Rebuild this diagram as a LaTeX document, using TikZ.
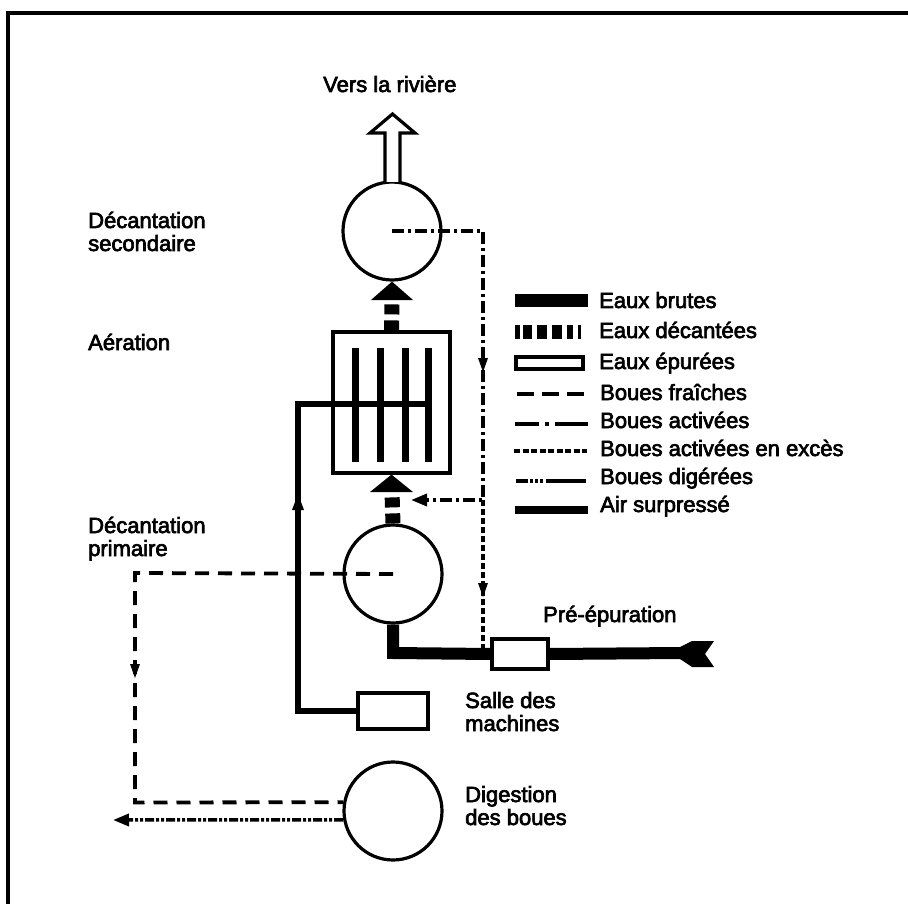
\documentclass[tikz,border=0pt]{standalone}
\usepackage{fontspec}
\setmainfont{Liberation Sans}
\newfontfamily\lblfont{Liberation Sans}[FakeBold=3]
\usetikzlibrary{arrows.meta,decorations.markings}
\begin{document}
\begin{tikzpicture}[x=1pt,y=-1pt,
  lbl/.style={anchor=base west, font=\fontsize{22}{23}\lblfont, inner sep=0pt},
  tank/.style={circle, draw, line width=3.2pt, minimum size=98pt, inner sep=0pt},
  boxn/.style={draw, line width=3.2pt, inner sep=0pt, fill=white},
  brutes/.style={line width=12pt, line join=miter},
  decant/.style={line width=15pt, dash pattern=on 10pt off 6pt},
  fraiche/.style={line width=3.8pt, dash pattern=on 14pt off 9pt},
  active/.style={line width=3.5pt, dash pattern=on 12pt off 4pt on 3pt off 4pt},
  exces/.style={line width=3.2pt, dash pattern=on 6pt off 3pt},
  digere/.style={line width=3.5pt, dash pattern=on 9pt off 2pt on 3pt off 2pt on 3pt off 2pt},
  air/.style={line width=6pt, line join=miter},
  arrowtri/.style={fill},
  endarrow/.style={-{Triangle[width=12pt,length=16pt]}}
]
\useasboundingbox (0,0) rectangle (908,904);
% frame
\draw[line width=3.5pt] (8,904) -- (8,13) -- (908,13);

% tanks and boxes
\node[tank] (sec) at (392,231) {};
\node[tank] (prim) at (393,574) {};
\node[tank] (dig) at (393,811) {};
\node[boxn, minimum width=117pt, minimum height=141pt] (aer) at (391.5,402.5) {};
\node[boxn, minimum width=56pt, minimum height=30pt] (pre) at (520,654) {};
\node[boxn, minimum width=70pt, minimum height=36pt] (salle) at (393,711) {};

% coordinates
\coordinate (actcorner) at (483,231);
\coordinate (actjoin) at (483,500);
\coordinate (actend) at (411,500);
\coordinate (excend) at (483,648);
\coordinate (frA) at (135,573);
\coordinate (frB) at (135,802.5);
\coordinate (digend) at (113,820);
\coordinate (airA) at (298,711);
\coordinate (airB) at (298,404);
\coordinate (airC) at (431,404);
\coordinate (brA) at (393,653);
\coordinate (tail) at (682,653);
\coordinate (triS) at (392,300);
\coordinate (triA) at (392,492);

% aeration internals
\foreach \x in {355,380,405,428}
  \draw[line width=7pt] (\x,348) -- (\x,462);

% air surpresse
\draw[air] (salle.west) -- (airA) -- (airB) -- (airC);
\fill[arrowtri] (298,494) -- (304,510) -- (292,510) -- cycle;

% eaux brutes
\draw[brutes] (tail) -- (pre.east);
\draw[brutes] (pre.west) -- (brA) -- (prim.south);
\fill (680,647) -- (692,641) -- (714,641) -- (705,654) -- (714,667) -- (692,667) -- (680,659) -- cycle;

% eaux decantees
\draw[decant] (aer.north) -- (triS);
\draw[decant] (prim.north) -- (triA);
\fill (sec.south) -- (413,300) -- (371,300) -- cycle;
\fill (aer.south) -- (413,492) -- (370,492) -- cycle;

% eaux epurees (hollow arrow)
\draw[line width=3.2pt, fill=white, line join=miter] (385,182) -- (385,133) -- (370,133) -- (392.5,114) -- (415,133) -- (400,133) -- (400,182);

% boues activees
\draw[active, endarrow] (sec.center) -- (actcorner) -- (actjoin) -- (actend);
\fill[arrowtri] (483,372) -- (488,358) -- (478,358) -- cycle;
% boues activees en exces
\draw[exces] (actjoin) -- (excend);
\fill[arrowtri] (483,597) -- (488,583) -- (478,583) -- cycle;
% boues fraiches
\draw[fraiche] (prim.center) -- (frA) -- (frB) -- (dig.170);
\fill[arrowtri] (135,678) -- (140,664) -- (130,664) -- cycle;
% boues digerees
\draw[digere, endarrow] (dig.190) -- (digend);

% labels
\node[lbl] (t1) at (323,92) {Vers la rivière};
\node[lbl] (t2) at (88,228) {Décantation};
\node[lbl] (t2b) at (88,251) {secondaire};
\node[lbl] (t3) at (88,350) {Aération};
\node[lbl] (t4) at (88,533) {Décantation};
\node[lbl] (t4b) at (88,556) {primaire};
\node[lbl] (t5) at (543,622) {Pré-épuration};
\node[lbl] (t6) at (465,708) {Salle des};
\node[lbl] (t6b) at (465,731) {machines};
\node[lbl] (t7) at (465,802) {Digestion};
\node[lbl] (t7b) at (465,825) {des boues};

% legend
\coordinate (l1a) at (515,300); \coordinate (l1b) at (588,300);
\draw[line width=13pt] (l1a) -- (l1b);
\node[lbl] (L1) at (599,308) {Eaux brutes};
\coordinate (l2a) at (515,332); \coordinate (l2b) at (587,332);
\draw[line width=14pt, dash pattern=on 5pt off 3pt on 9pt off 5pt on 10pt off 5pt on 10pt off 5pt on 6pt] (l2a) -- (l2b);
\node[lbl] (L2) at (599,338) {Eaux décantées};
\draw[line width=3.2pt] (516,357) rectangle (583,369);
\node[lbl] (L3) at (599,369) {Eaux épurées};
\coordinate (l4a) at (517,394); \coordinate (l4b) at (585,394);
\draw[line width=4pt, dash pattern=on 17pt off 8pt] (l4a) -- (l4b);
\node[lbl] (L4) at (600,400) {Boues fraîches};
\coordinate (l5a) at (515,424); \coordinate (l5b) at (588,424);
\draw[line width=4.5pt, dash pattern=on 24pt off 6pt on 4pt off 6pt on 40pt] (l5a) -- (l5b);
\node[lbl] (L5) at (600,428) {Boues activées};
\coordinate (l6a) at (514,451); \coordinate (l6b) at (587,451);
\draw[line width=3.5pt, dash pattern=on 6pt off 2.5pt] (l6a) -- (l6b);
\node[lbl] (L6) at (600,456) {Boues activées en excès};
\coordinate (l7a) at (516,481); \coordinate (l7b) at (588,481);
\draw[line width=4pt, dash pattern=on 12pt off 2pt on 3pt off 2pt on 3pt off 2pt on 3pt off 3pt on 40pt] (l7a) -- (l7b);
\node[lbl] (L7) at (600,484) {Boues digérées};
\coordinate (l8a) at (515,510); \coordinate (l8b) at (588,510);
\draw[line width=8pt] (l8a) -- (l8b);
\node[lbl] (L8) at (600,512) {Air surpressé};
\end{tikzpicture}
\end{document}
